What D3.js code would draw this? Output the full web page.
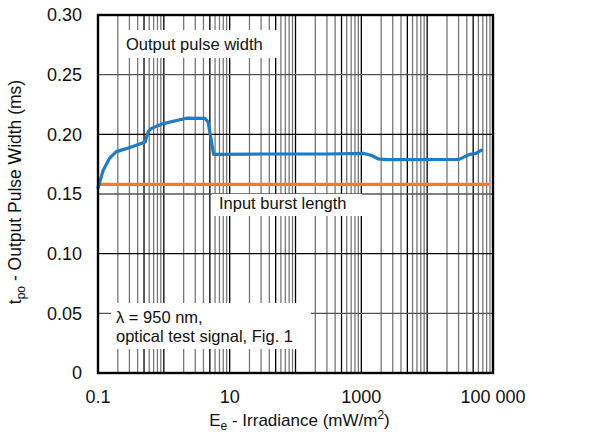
<!DOCTYPE html>
<html>
<head>
<meta charset="utf-8">
<script src="https://cdn.jsdelivr.net/npm/d3@7"></script>
<style>
  body { margin: 0; background: #fff; }
  text { font-family: "Liberation Sans", Arial, sans-serif; fill: #111; }
</style>
</head>
<body>
<div id="chart"></div>
<script>
// measured output pulse width vs irradiance
var pulseE = [0.1, 0.12, 0.15, 0.19, 0.27, 0.52, 0.58, 0.65, 0.98, 2.2, 4.2, 4.7, 5.7, 30, 300, 1100, 1400, 1800, 2400, 30500, 44000, 55000, 67000];
var pulseT = [0.155, 0.170, 0.180, 0.1855, 0.188, 0.1935, 0.2025, 0.205, 0.209, 0.2135, 0.2133, 0.2105, 0.1832, 0.1835, 0.1835, 0.1840, 0.1825, 0.1795, 0.1788, 0.1790, 0.1832, 0.1840, 0.1868];
// input burst length (constant)
var burstE = [0.1, 87000];
var burstT = [0.158, 0.158];

var yTicks = [0, 0.05, 0.10, 0.15, 0.20, 0.25, 0.30];
var yTickLabels = ["0", "0.05", "0.10", "0.15", "0.20", "0.25", "0.30"];
var xTicks = [0.1, 10, 1000, 100000];
var xTickLabels = ["0.1", "10", "1000", "100 000"];

var W = 589, H = 434;
var margin = { top: 15, right: 96, bottom: 61, left: 98 };
var width = W - margin.left - margin.right;
var height = H - margin.top - margin.bottom;

var svg = d3.select("#chart").append("svg").attr("width", W).attr("height", H);
var g = svg.append("g").attr("transform", "translate(" + margin.left + "," + margin.top + ")");

var x = d3.scaleLog().domain([0.1, 100000]).range([0, width]);
var y = d3.scaleLinear().domain([0, 0.30]).range([height, 0]);

// vertical grid: 1..9 per decade
var vlines = [];
for (var e = -1; e < 5; e++) {
  for (var m = 1; m <= 9; m++) {
    if (e === -1 && m === 1) continue;
    vlines.push({ v: m * Math.pow(10, e), dark: m === 1 || m === 5 });
  }
}
g.append("g").selectAll("line").data(vlines).enter().append("line")
  .attr("x1", function (d) { return x(d.v); }).attr("x2", function (d) { return x(d.v); })
  .attr("y1", 0).attr("y2", height)
  .attr("stroke", function (d) { return d.dark ? "#000" : "#777"; })
  .attr("stroke-width", 1.3);

g.append("g").selectAll("line").data(yTicks.slice(1, -1)).enter().append("line")
  .attr("x1", 0).attr("x2", width)
  .attr("y1", function (d) { return y(d); }).attr("y2", function (d) { return y(d); })
  .attr("stroke", function (d, i) { return i % 2 ? "#000" : "#555"; })
  .attr("stroke-width", 1.3);

// label boxes (white backgrounds cut the grid)
var boxes = [
  { x0: 120, y0: 30, x1: 279, y1: 58, lines: ["Output pulse width"], tx: 126, ty: 50 },
  { x0: 212, y0: 194, x1: 362, y1: 216, lines: ["Input burst length"], tx: 219, ty: 209 },
  { x0: 111, y0: 303, x1: 311, y1: 349, lines: ["\u03bb = 950 nm,", "optical test signal, Fig. 1"], tx: 116, ty: 323 }
];
boxes.forEach(function (b) {
  svg.append("rect").attr("x", b.x0).attr("y", b.y0)
    .attr("width", b.x1 - b.x0).attr("height", b.y1 - b.y0).attr("fill", "#fff");
});

var line = d3.line().x(function (d) { return x(d[0]); }).y(function (d) { return y(d[1]); });

g.append("path").datum(d3.zip(burstE, burstT)).attr("d", line)
  .attr("fill", "none").attr("stroke", "#f47b28").attr("stroke-width", 3.2);
g.append("path").datum(d3.zip(pulseE, pulseT)).attr("d", line)
  .attr("fill", "none").attr("stroke", "#1f7bc4").attr("stroke-width", 3.2)
  .attr("stroke-linejoin", "round").attr("stroke-linecap", "round");

boxes.forEach(function (b) {
  b.lines.forEach(function (t, i) {
    svg.append("text").attr("x", b.tx).attr("y", b.ty + i * 19)
      .attr("font-size", 16.5).text(t);
  });
});

// frame
g.append("rect").attr("width", width).attr("height", height)
  .attr("fill", "none").attr("stroke", "#000").attr("stroke-width", 2.4);

// tick labels
g.append("g").selectAll("text").data(yTicks).enter().append("text")
  .attr("x", -16).attr("y", function (d) { return y(d); }).attr("dy", "0.35em")
  .attr("text-anchor", "end").attr("font-size", 18)
  .text(function (d, i) { return yTickLabels[i]; });

g.append("g").selectAll("text").data(xTicks).enter().append("text")
  .attr("x", function (d) { return x(d); }).attr("y", height + 30)
  .attr("text-anchor", "middle").attr("font-size", 18)
  .text(function (d, i) { return xTickLabels[i]; });

// axis titles
var xt = svg.append("text").attr("x", margin.left + width / 2 + 4).attr("y", 426)
  .attr("text-anchor", "middle").attr("font-size", 17);
xt.append("tspan").text("E");
xt.append("tspan").attr("font-size", 12).attr("dy", 4).text("e");
xt.append("tspan").attr("dy", -4).text(" - Irradiance (mW/m");
xt.append("tspan").attr("font-size", 12).attr("dy", -7).text("2");
xt.append("tspan").attr("dy", 7).text(")");

var yt = svg.append("text").attr("transform", "translate(21,192) rotate(-90)")
  .attr("text-anchor", "middle").attr("font-size", 17.5);
yt.append("tspan").text("t");
yt.append("tspan").attr("font-size", 12).attr("dy", 4).text("po");
yt.append("tspan").attr("dy", -4).text(" - Output Pulse Width (ms)");
</script>
</body>
</html>
